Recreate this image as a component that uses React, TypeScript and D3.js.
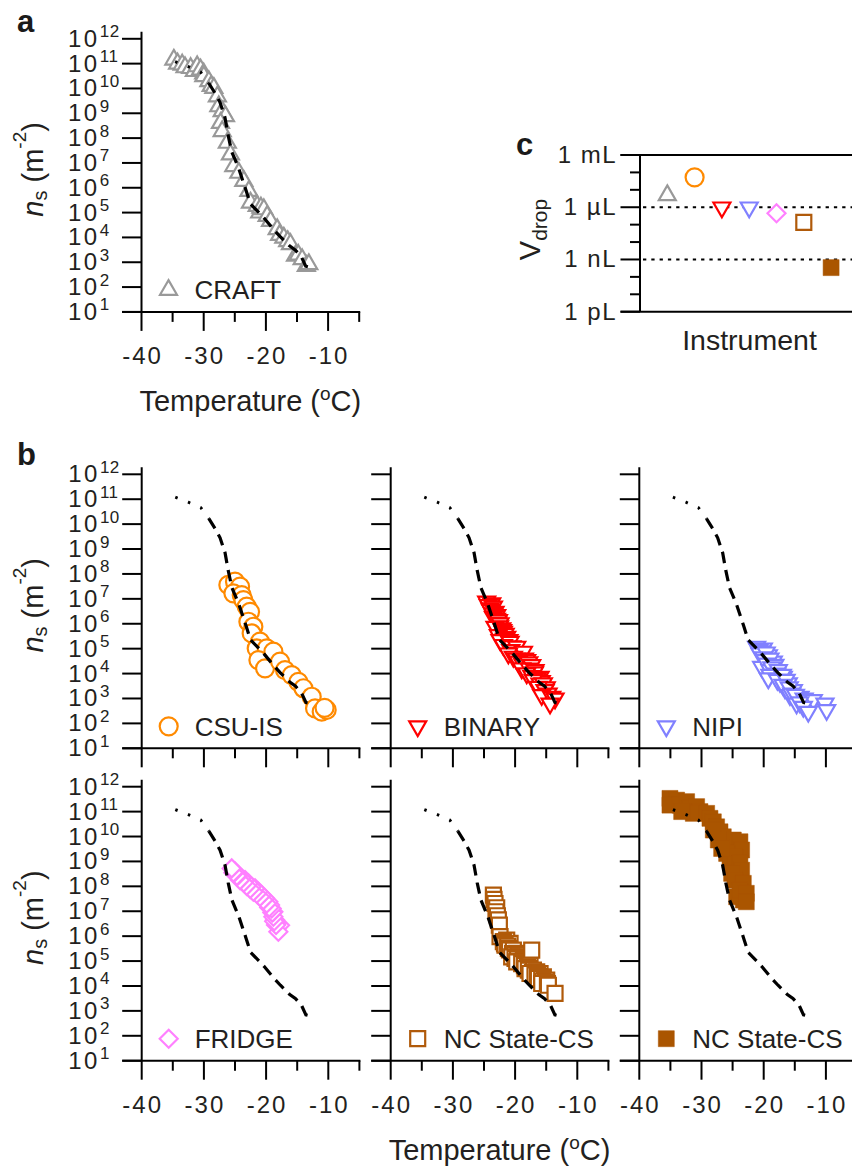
import React from "react";
import * as d3 from "d3";

// ---------- data ----------
// reference ns(T) curve (dashed line in every panel), log10(ns)
const refTemp = [-34.6, -32.5, -30.5, -29.2, -28.2, -27.4, -26.6, -26.1, -25.5, -24.4, -23.2, -22.5, -21.0, -20.3, -18.7, -17.7, -16.2, -15.3, -14.3, -13.6, -12.8];
const refLogNs = [11.08, 10.88, 10.66, 10.22, 9.82, 9.45, 8.85, 8.15, 7.45, 6.8, 5.9, 5.35, 4.97, 4.78, 4.3, 4.03, 3.66, 3.5, 3.22, 2.84, 2.79];
const refDottedCount = 4; // first points drawn dotted

const craftTemp = [-34.8, -34.2, -33.46, -33.0, -32.1, -31.5, -31.05, -30.5, -30.0, -29.98, -29.17, -28.8, -28.37, -27.8, -27.57, -27.03, -26.5, -27.3, -27.03, -26.2, -25.7, -25.16, -24.35, -23.55, -22.74, -22.48, -21.4, -21.0, -20.8, -20.33, -19.8, -19.26, -18.19, -17.8, -17.12, -16.5, -16.05, -15.24, -14.8, -14.17, -13.5, -13.1];
const craftLogNs = [11.16, 11.0, 10.96, 10.85, 10.82, 10.7, 10.89, 10.76, 10.6, 10.49, 10.29, 10.1, 10.02, 9.68, 9.28, 9.08, 8.88, 8.61, 8.28, 7.81, 7.34, 6.87, 6.6, 6.27, 5.87, 5.4, 5.27, 5.0, 5.2, 5.13, 4.86, 4.66, 4.33, 4.1, 3.99, 3.85, 3.73, 3.26, 3.3, 3.12, 2.85, 2.92];

const csuTemp = [-26.07, -25.0, -24.19, -25.26, -23.92, -23.65, -23.12, -22.58, -22.85, -22.05, -22.32, -20.98, -21.51, -19.9, -18.83, -21.24, -20.17, -17.76, -16.96, -15.88, -14.81, -14.0, -12.67, -12.13, -11.06, -10.26, -10.6];
const csuLogNs = [7.56, 7.69, 7.49, 7.22, 7.15, 6.95, 6.69, 6.48, 6.08, 5.88, 5.61, 5.28, 5.01, 5.01, 4.88, 4.54, 4.21, 4.48, 4.14, 3.94, 3.67, 3.41, 3.07, 2.6, 2.47, 2.54, 2.62];

const binaryTemp = [-24.57, -23.76, -24.3, -23.49, -24.03, -23.9, -23.23, -23.6, -22.96, -23.49, -23.0, -22.69, -22.8, -22.42, -22.5, -23.23, -22.15, -22.0, -21.89, -21.6, -22.69, -21.35, -21.7, -22.42, -21.0, -20.81, -21.89, -20.5, -19.74, -20.7, -19.9, -19.2, -18.67, -21.08, -20.28, -19.8, -18.5, -18.14, -19.47, -18.8, -17.8, -17.33, -18.94, -17.7, -16.8, -16.9, -18.14, -17.3, -15.99, -16.5, -15.8, -17.06, -16.0, -15.46, -15.0, -16.26, -15.19, -14.7, -15.72, -14.12, -13.58, -14.38];
const binaryLogNs = [6.89, 6.82, 6.75, 6.69, 6.62, 6.55, 6.48, 6.42, 6.35, 6.28, 6.2, 6.15, 6.05, 6.02, 5.9, 5.88, 5.82, 5.75, 5.68, 5.6, 5.55, 5.48, 5.4, 5.35, 5.35, 5.28, 5.15, 5.1, 5.08, 4.95, 4.85, 4.8, 4.88, 4.81, 4.68, 4.6, 4.6, 4.54, 4.48, 4.4, 4.45, 4.34, 4.21, 4.2, 4.14, 4.05, 4.01, 3.9, 3.87, 3.8, 3.7, 3.74, 3.6, 3.61, 3.45, 3.47, 3.34, 3.2, 3.14, 3.07, 3.0, 2.8];

const nipiTemp = [-21.14, -20.06, -20.8, -20.3, -20.6, -19.26, -19.6, -20.0, -19.8, -18.46, -19.0, -20.33, -19.5, -18.2, -18.99, -18.7, -17.65, -18.19, -17.9, -19.0, -16.85, -17.0, -19.26, -17.39, -17.8, -16.05, -16.4, -16.58, -16.9, -15.24, -15.9, -15.78, -15.5, -14.17, -14.9, -14.71, -13.5, -12.83, -12.03, -10.15, -14.2, -13.63, -12.83, -9.88];
const nipiLogNs = [5.08, 5.01, 4.95, 4.9, 4.81, 4.74, 4.85, 4.65, 4.54, 4.48, 4.6, 4.27, 4.4, 4.35, 4.14, 4.25, 4.14, 3.94, 4.0, 3.95, 3.87, 3.95, 3.81, 3.67, 3.75, 3.61, 3.75, 3.41, 3.55, 3.34, 3.45, 3.14, 3.2, 3.07, 3.15, 2.8, 3.0, 2.94, 2.94, 2.8, 2.85, 2.67, 2.47, 2.54];

const fridgeTemp = [-17.76, -18.03, -18.3, -18.4, -18.56, -18.7, -18.83, -18.83, -19.0, -19.1, -19.37, -19.5, -19.64, -19.9, -20.17, -20.45, -20.71, -20.98, -21.24, -21.5, -21.78, -22.05, -22.32, -22.55, -22.85, -23.12, -23.39, -23.6, -23.92, -24.19, -24.46, -24.7, -24.99, -25.26, -25.53];
const fridgeLogNs = [6.44, 6.18, 6.51, 6.45, 6.65, 6.6, 6.78, 6.98, 6.95, 7.11, 7.25, 7.15, 7.38, 7.31, 7.52, 7.45, 7.65, 7.58, 7.78, 7.7, 7.92, 7.78, 7.98, 7.9, 8.12, 8.02, 8.25, 8.15, 8.32, 8.25, 8.45, 8.42, 8.59, 8.55, 8.72];

const ncOpenTemp = [-23.49, -23.39, -23.23, -22.96, -23.07, -22.85, -22.69, -22.53, -22.42, -21.35, -21.89, -20.81, -21.7, -21.62, -21.2, -21.08, -20.9, -20.28, -19.74, -20.4, -20.1, -19.47, -20.55, -19.21, -20.01, -19.6, -18.67, -19.3, -19.74, -18.8, -18.94, -18.14, -18.5, -17.6, -18.0, -18.4, -17.7, -17.87, -17.06, -16.53, -17.2, -16.9, -17.6, -15.99, -16.8, -16.4, -15.46, -16.1, -16.26, -15.72, -15.3, -14.92, -15.6, -15.19, -15.72, -14.8, -17.33, -14.65, -13.58];
const ncOpenLogNs = [7.65, 7.48, 7.31, 7.14, 6.98, 6.82, 6.65, 6.44, 5.98, 5.84, 5.78, 5.71, 5.7, 5.64, 5.6, 5.51, 5.45, 5.44, 5.31, 5.3, 5.25, 5.24, 5.17, 5.17, 5.11, 5.1, 5.04, 5.0, 4.97, 4.95, 4.9, 4.9, 4.82, 4.84, 4.75, 4.7, 4.7, 4.64, 4.64, 4.57, 4.55, 4.52, 4.5, 4.5, 4.44, 4.42, 4.37, 4.38, 4.3, 4.3, 4.22, 4.24, 4.2, 4.17, 4.1, 4.1, 5.44, 4.03, 3.7];

const ncFillTemp = [-35.07, -34.0, -35.07, -33.46, -32.39, -31.85, -30.78, -30.25, -31.32, -33.19, -29.17, -28.64, -28.1, -27.57, -27.03, -26.5, -25.96, -25.42, -24.89, -23.82, -23.55, -25.96, -25.42, -24.62, -23.82, -23.55, -25.16, -24.62, -23.28, -23.01, -23.28, -24.35, -23.82, -28.1, -27.3, -26.76, -22.8, -22.8];
const ncFillLogNs = [11.53, 11.46, 11.26, 11.26, 11.4, 11.13, 11.2, 11.0, 10.93, 11.0, 10.93, 10.73, 10.59, 10.39, 10.19, 9.99, 9.79, 9.59, 9.86, 9.79, 9.46, 9.32, 9.05, 9.19, 8.92, 8.65, 8.52, 8.25, 8.12, 7.58, 7.45, 7.58, 7.85, 10.26, 9.86, 9.52, 7.72, 7.38];

const tempTicks = [-40, -35, -30, -25, -20, -15, -10, -5];
const tempLabelled = [-40, -30, -20, -10];
const nsExponents = [1, 2, 3, 4, 5, 6, 7, 8, 9, 10, 11, 12];

// panel c: drop volumes (litres)
const instrumentNames = ["CRAFT", "CSU-IS", "BINARY", "NIPI", "FRIDGE", "NC State-CS", "NC State-CS"];
const vdropLiters = [4.9e-6, 5.2e-5, 9.8e-7, 9.8e-7, 4.5e-7, 1.35e-7, 3.4e-10];
const vdropTickExp = [-12, -11, -10, -9, -8, -7, -6, -5, -4, -3];
const vdropLabelExp = [-3, -6, -9, -12];
const vdropLabelText = ["1 mL", "1 \u00b5L", "1 nL", "1 pL"];
const vdropGuides = [1e-6, 1e-9];

// styles
const instrumentColors = ["#999999", "#ff8a00", "#ff0000", "#8080ff", "#ff80ff", "#b05a0a", "#aa5500"];
const instrumentShapes = ["triUp", "circle", "triDown", "triDown", "diamond", "square", "square"];
const instrumentFilled = [false, false, false, false, false, false, true];

// ---------- layout ----------
const FONT = "'Liberation Sans', Arial, Helvetica, sans-serif";
const TXT = "#231f20";
const PW = 217.7;

function markerPath(shape: string): string {
  if (shape === "triUp" || shape === "triDown") {
    const s = 17;
    const h = (s * Math.sqrt(3)) / 2;
    const k = shape === "triUp" ? 1 : -1;
    return `M0,${(-2 * h * k) / 3}L${s / 2},${(h * k) / 3}L${-s / 2},${(h * k) / 3}Z`;
  }
  if (shape === "diamond") return "M0,-9L9,0L0,9L-9,0Z";
  if (shape === "square") return "M-7.5,-7.5H7.5V7.5H-7.5Z";
  return d3.symbol().type(d3.symbolCircle).size(Math.PI * 81)() as string;
}

function Marker({ x, y, idx }: { x: number; y: number; idx: number }) {
  const c = instrumentColors[idx];
  const filled = instrumentFilled[idx];
  const shape = instrumentShapes[idx];
  if (filled) {
    return <path d="M-8,-8H8V8H-8Z" transform={`translate(${x},${y})`} fill={c} stroke={c} strokeWidth={0.5} />;
  }
  return <path d={markerPath(shape)} transform={`translate(${x},${y})`} fill="#fff" stroke={c} strokeWidth={2.2} />;
}

type PanelProps = {
  x0: number;
  yTop: number;
  yBot: number;
  temps: number[];
  logs: number[];
  idx: number;
  yLabels: boolean;
  xLabels: boolean;
  xTitle: boolean;
};

function NsPanel({ x0, yTop, yBot, temps, logs, idx, yLabels, xLabels, xTitle }: PanelProps) {
  const x = d3.scaleLinear().domain([-40, -5]).range([x0, x0 + PW]);
  const y = d3.scaleLog().domain([10, 1e12]).range([yBot, yTop]);
  const line = d3
    .line<number>()
    .x((i) => x(refTemp[i]))
    .y((i) => y(Math.pow(10, refLogNs[i])));
  const idxAll = refTemp.map((_, i) => i);
  const dotted = line(idxAll.slice(0, refDottedCount)) as string;
  const dashed = line(idxAll.slice(refDottedCount - 1)) as string;
  const cy = (yTop + yBot) / 2 - 6;
  return (
    <g>
      {/* markers */}
      {temps.map((t, i) => (
        <Marker key={i} x={x(t)} y={y(Math.pow(10, logs[i]))} idx={idx} />
      ))}
      {/* reference curve */}
      <path d={dotted} fill="none" stroke="#000" strokeWidth={3} strokeDasharray="2.5,11" />
      <path d={dashed} fill="none" stroke="#000" strokeWidth={3.2} strokeDasharray="11.5,7" />
      {/* axes */}
      <line x1={x0} x2={x0} y1={yTop - 7} y2={yBot} stroke="#000" strokeWidth={2} />
      <line x1={x0 - 19.5} x2={x0 + PW + 1} y1={yBot} y2={yBot} stroke="#000" strokeWidth={2} />
      {nsExponents.map((e) => (
        <line key={e} x1={x0 - 19.5} x2={x0} y1={y(Math.pow(10, e))} y2={y(Math.pow(10, e))} stroke="#000" strokeWidth={2} />
      ))}
      {tempTicks.map((t) => (
        <line key={t} x1={x(t)} x2={x(t)} y1={yBot} y2={yBot + (tempLabelled.includes(t) ? 19 : 10)} stroke="#000" strokeWidth={2} />
      ))}
      {yLabels &&
        nsExponents.map((e) => (
          <text key={e} x={x0 - 73.5} y={y(Math.pow(10, e)) + 8} fontSize={24} letterSpacing={2.5} fill={TXT} fontFamily={FONT}>
            10
            <tspan dy={-9.5} fontSize={17} letterSpacing={0.5}>
              {e}
            </tspan>
          </text>
        ))}
      {yLabels && (
        <text transform={`translate(43.3,${cy}) rotate(-90)`} textAnchor="middle" fontSize={29} fill={TXT} fontFamily={FONT}>
          <tspan fontStyle="italic">n</tspan>
          <tspan dy={4} fontSize={20}>s</tspan>
          <tspan dy={-4}> (m</tspan>
          <tspan dy={-17} fontSize={19}>-2</tspan>
          <tspan dy={17}>)</tspan>
        </text>
      )}
      {xLabels &&
        tempLabelled.map((t) => (
          <text key={t} x={x(t) + 1} y={yBot + 52.5} textAnchor="middle" fontSize={24} letterSpacing={2} fill={TXT} fontFamily={FONT}>
            {t}
          </text>
        ))}
      {xTitle && (
        <text x={x0 + PW / 2} y={yBot + 99} textAnchor="middle" fontSize={29} fill={TXT} fontFamily={FONT}>
          Temperature (<tspan dy={-11} fontSize={19}>o</tspan>
          <tspan dy={11}>C)</tspan>
        </text>
      )}
      {/* legend */}
      <Marker x={x0 + 27} y={yBot - 22} idx={idx} />
      <text x={x0 + 53} y={yBot - 22 + 9.5} fontSize={26} fill={TXT} fontFamily={FONT}>
        {instrumentNames[idx]}
      </text>
    </g>
  );
}

function VdropPanel() {
  const yTop = 155;
  const yBot = 311.7;
  const xAxis = 640;
  const x = d3.scaleLinear().domain([0, 8]).range([xAxis, 858.4]);
  const y = d3.scaleLog().domain([1e-12, 1e-3]).range([yBot, yTop]);
  return (
    <g>
      {vdropGuides.map((v) => (
        <line key={v} x1={xAxis + 3} x2={852} y1={y(v)} y2={y(v)} stroke="#000" strokeWidth={2} strokeDasharray="3.3,5" />
      ))}
      <line x1={xAxis} x2={xAxis} y1={yTop} y2={yBot} stroke="#000" strokeWidth={2} />
      <line x1={xAxis - 19.5} x2={852} y1={yTop} y2={yTop} stroke="#000" strokeWidth={2} />
      <line x1={xAxis - 19.5} x2={852} y1={yBot} y2={yBot} stroke="#000" strokeWidth={2} />
      {vdropTickExp.map((e) => (
        <line key={e} x1={xAxis - (vdropLabelExp.includes(e) ? 19.5 : 10)} x2={xAxis} y1={y(Math.pow(10, e))} y2={y(Math.pow(10, e))} stroke="#000" strokeWidth={2} />
      ))}
      {vdropLabelExp.map((e, i) => (
        <text key={e} x={617} y={y(Math.pow(10, e)) + 8} textAnchor="end" fontSize={24} letterSpacing={1.5} fill={TXT} fontFamily={FONT}>
          {vdropLabelText[i]}
        </text>
      ))}
      {vdropLiters.map((v, i) => (
        <Marker key={i} x={x(i + 1)} y={y(v)} idx={i} />
      ))}
      <text transform={`translate(540,229.5) rotate(-90)`} textAnchor="middle" fontSize={29} fill={TXT} fontFamily={FONT}>
        V<tspan dy={7} fontSize={21}>drop</tspan>
      </text>
      <text x={749.5} y={350} textAnchor="middle" fontSize={28.5} fill={TXT} fontFamily={FONT}>
        Instrument
      </text>
    </g>
  );
}

const panelLetterStyle = { fontSize: 31, fontWeight: 700 as const, fill: "#1a1a1a", fontFamily: FONT };

export default function App() {
  const colX = [141.7, 390.7, 639.3];
  const row1 = [474.3, 748.3];
  const row2 = [786.7, 1060.7];
  return (
    <svg width={852} height={1166} style={{ position: "absolute", left: 0, top: 0, background: "#fff" }}>
      <rect width={852} height={1166} fill="#fff" />
      <text x={17} y={32} {...panelLetterStyle}>a</text>
      <text x={17} y={465} {...panelLetterStyle}>b</text>
      <text x={516} y={155} {...panelLetterStyle}>c</text>

      <NsPanel x0={141.5} yTop={38.8} yBot={311.9} temps={craftTemp} logs={craftLogNs} idx={0} yLabels xLabels xTitle />

      <NsPanel x0={colX[0]} yTop={row1[0]} yBot={row1[1]} temps={csuTemp} logs={csuLogNs} idx={1} yLabels xLabels={false} xTitle={false} />
      <NsPanel x0={colX[1]} yTop={row1[0]} yBot={row1[1]} temps={binaryTemp} logs={binaryLogNs} idx={2} yLabels={false} xLabels={false} xTitle={false} />
      <NsPanel x0={colX[2]} yTop={row1[0]} yBot={row1[1]} temps={nipiTemp} logs={nipiLogNs} idx={3} yLabels={false} xLabels={false} xTitle={false} />

      <NsPanel x0={colX[0]} yTop={row2[0]} yBot={row2[1]} temps={fridgeTemp} logs={fridgeLogNs} idx={4} yLabels xLabels xTitle={false} />
      <NsPanel x0={colX[1]} yTop={row2[0]} yBot={row2[1]} temps={ncOpenTemp} logs={ncOpenLogNs} idx={5} yLabels={false} xLabels xTitle />
      <NsPanel x0={colX[2]} yTop={row2[0]} yBot={row2[1]} temps={ncFillTemp} logs={ncFillLogNs} idx={6} yLabels={false} xLabels xTitle={false} />

      <VdropPanel />
    </svg>
  );
}
